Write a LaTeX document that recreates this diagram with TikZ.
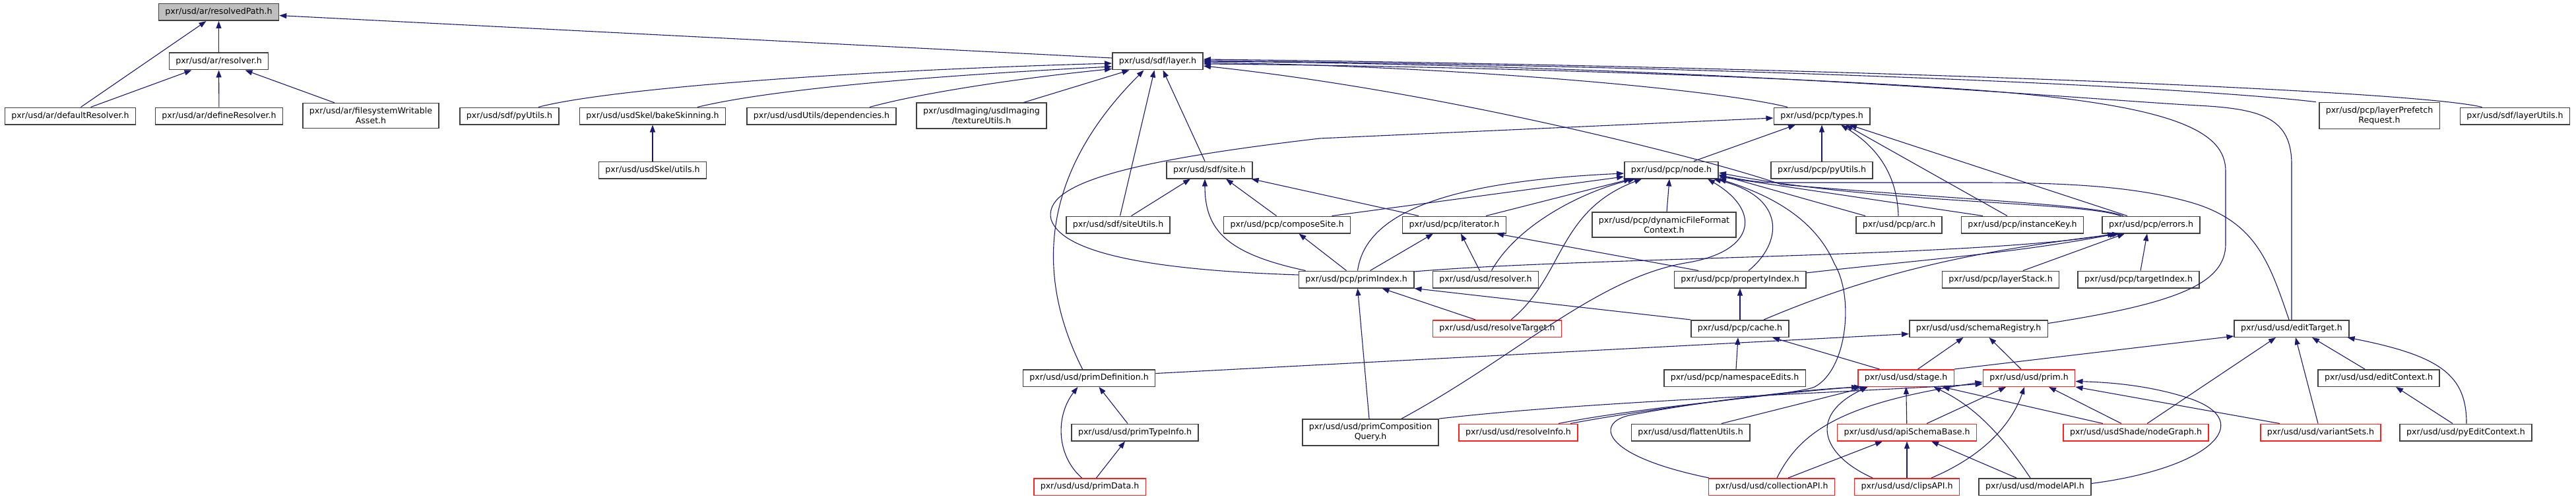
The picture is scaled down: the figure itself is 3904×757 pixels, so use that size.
\documentclass[tikz,border=0pt]{standalone}
\usepackage{fontspec}
\setmainfont{DejaVu Sans}
\usetikzlibrary{arrows.meta, positioning, calc}
\usepackage{xcolor}
\definecolor{midnight}{HTML}{191970}
\definecolor{frame}   {HTML}{404040}
\definecolor{redline} {HTML}{FF2020}
\definecolor{rootfill}{HTML}{BFBFBF}
\tikzset{
  file/.style  = {draw=frame, line width=1.5pt, fill=white, align=center,
                  inner xsep=10pt, inner ysep=6.5pt, minimum height=25.5pt,
                  font=\fontsize{12.6}{15}\selectfont},
  trunc/.style = {file, draw=redline},
  root/.style  = {file, fill=rootfill},
  dep/.style   = {-{Triangle[length=11pt,width=8pt]}, midnight, line width=1.1pt},
}

\begin{document}
\begin{tikzpicture}[x=1pt, y=-1pt]
  \useasboundingbox (0,0) rectangle (3904,757);

  % ar
  \node[root] (rpath)    at (331.5,18.5) {pxr/usd/ar/resolvedPath.h};
  \node[file] (resolver) at (331.5,93)   {pxr/usd/ar/resolver.h};
  \node[file] (defres)   at (106.5,176)  {pxr/usd/ar/defaultResolver.h};
  \node[file] (defineres) at (332,176)   {pxr/usd/ar/defineResolver.h};
  \node[file] (fswa)     at (562,175.5)  {pxr/usd/ar/filesystemWritable\\Asset.h};

  % sdf/layer.h and its direct users
  \node[file] (layer)    at (1754.5,93)  {pxr/usd/sdf/layer.h};
  \node[file] (sdfpy)    at (772,176)    {pxr/usd/sdf/pyUtils.h};
  \node[file] (bake)     at (989,176)    {pxr/usd/usdSkel/bakeSkinning.h};
  \node[file] (deps)     at (1245,176)   {pxr/usd/usdUtils/dependencies.h};
  \node[file] (texutil)  at (1487.5,175.5) {pxr/usdImaging/usdImaging\\/textureUtils.h};
  \node[file] (types)    at (2761,176)   {pxr/usd/pcp/types.h};
  \node[file] (prefetch) at (3606,175.5) {pxr/usd/pcp/layerPrefetch\\Request.h};
  \node[file] (layerutil) at (3811.5,176) {pxr/usd/sdf/layerUtils.h};
  \node[file] (skelutil) at (989,258)    {pxr/usd/usdSkel/utils.h};

  % sdf/site.h, pcp/node.h
  \node[file] (site)     at (1833,258)   {pxr/usd/sdf/site.h};
  \node[file] (pcpnode)  at (2533,258)   {pxr/usd/pcp/node.h};
  \node[file] (pcppy)    at (2761,258)   {pxr/usd/pcp/pyUtils.h};
  \node[file] (siteutil) at (1694.5,341) {pxr/usd/sdf/siteUtils.h};
  \node[file] (compsite) at (1950.5,341) {pxr/usd/pcp/composeSite.h};
  \node[file] (iter)     at (2204,341)   {pxr/usd/pcp/iterator.h};
  \node[file] (dffc)     at (2522,341)   {pxr/usd/pcp/dynamicFileFormat\\Context.h};
  \node[file] (arc)      at (2878,341)   {pxr/usd/pcp/arc.h};
  \node[file] (instkey)  at (3065,341)   {pxr/usd/pcp/instanceKey.h};
  \node[file] (errors)   at (3260,341)   {pxr/usd/pcp/errors.h};

  % pcp indices
  \node[file]  (primidx) at (2055.5,424) {pxr/usd/pcp/primIndex.h};
  \node[file]  (usdres)  at (2251.5,424) {pxr/usd/usd/resolver.h};
  \node[file]  (propidx) at (2637,424)   {pxr/usd/pcp/propertyIndex.h};
  \node[file]  (lstack)  at (3032,424)   {pxr/usd/pcp/layerStack.h};
  \node[file]  (tidx)    at (3241,424)   {pxr/usd/pcp/targetIndex.h};
  \node[trunc] (restgt)  at (2269,498.5) {pxr/usd/usd/resolveTarget.h};
  \node[file]  (cache)   at (2637,498.5) {pxr/usd/pcp/cache.h};
  \node[file]  (schreg)  at (2998.5,498.5) {pxr/usd/usd/schemaRegistry.h};
  \node[file]  (edittgt) at (3473,498.5) {pxr/usd/usd/editTarget.h};

  % usd
  \node[file]  (primdef) at (1650.5,573.5) {pxr/usd/usd/primDefinition.h};
  \node[file]  (nsedits) at (2629,573.5) {pxr/usd/pcp/namespaceEdits.h};
  \node[trunc] (stage)   at (2888.5,573.5) {pxr/usd/usd/stage.h};
  \node[trunc] (prim)    at (3075,573.5) {pxr/usd/usd/prim.h};
  \node[file]  (editctx) at (3605,573.5) {pxr/usd/usd/editContext.h};
  \node[file]  (primtype) at (1720,656)  {pxr/usd/usd/primTypeInfo.h};
  \node[file]  (pcq)     at (2077,656)   {pxr/usd/usd/primComposition\\Query.h};
  \node[trunc] (resinfo) at (2301,656)   {pxr/usd/usd/resolveInfo.h};
  \node[file]  (flatten) at (2562,656)   {pxr/usd/usd/flattenUtils.h};
  \node[trunc] (apibase) at (2890,656)   {pxr/usd/usd/apiSchemaBase.h};
  \node[trunc] (nodegraph) at (3237,656) {pxr/usd/usdShade/nodeGraph.h};
  \node[trunc] (varsets) at (3517,656)   {pxr/usd/usd/variantSets.h};
  \node[file]  (pyeditctx) at (3737,656) {pxr/usd/usd/pyEditContext.h};
  \node[trunc] (primdata) at (1651.5,738.5) {pxr/usd/usd/primData.h};
  \node[trunc] (collapi) at (2685,738.5) {pxr/usd/usd/collectionAPI.h};
  \node[trunc] (clipsapi) at (2890,738.5) {pxr/usd/usd/clipsAPI.h};
  \node[file]  (modelapi) at (3084,738.5) {pxr/usd/usd/modelAPI.h};

  % ar edges
  \draw[dep] ([xshift=16pt]defres.north) -- ([xshift=-19pt]rpath.south);
  \draw[dep] (resolver) -- (rpath);
  \draw[dep] ([yshift=5pt]layer.west) -- ([yshift=-5pt]rpath.east);
  \draw[dep] ([xshift=31pt]defres.north) -- ([xshift=-41pt]resolver.south);
  \draw[dep] (defineres) -- (resolver);
  \draw[dep] ([xshift=-55pt]fswa.north) -- ([xshift=40pt]resolver.south);

  % into sdf/layer.h
  \draw[dep] ([xshift=44pt]sdfpy.north) .. controls (900,140) and (1200,110) .. ([yshift=-3pt]layer.west);
  \draw[dep] ([xshift=68pt]bake.north) .. controls (1150,140) and (1350,118) .. ([yshift=-8pt]layer.west);
  \draw[dep] ([xshift=73pt]deps.north) .. controls (1400,140) and (1550,118) .. ([yshift=2pt]layer.south west);
  \draw[dep] ([xshift=64pt]texutil.north) -- ([xshift=-43pt]layer.south);
  \draw[dep] ([xshift=-10pt]primdef.north) .. controls (1580,440) and (1560,280) .. ([xshift=-21pt]layer.south);
  \draw[dep] ([xshift=3pt]siteutil.north) -- ([xshift=-5pt]layer.south);
  \draw[dep] ([xshift=-7pt]site.north) -- ([xshift=8pt]layer.south);
  \draw[dep] ([xshift=-52pt]types.north) .. controls (2600,135) and (2200,100) .. ([yshift=-2pt]layer.east);
  \draw[dep] ([xshift=-42pt]errors.north) .. controls (3170,310) and (3000,305) .. (2700,280)
             .. controls (2600,245) and (2200,140) .. ([yshift=-7pt]layer.east);
  \draw[dep] ([xshift=-96pt]prefetch.north) .. controls (3300,130) and (2600,100) .. ([yshift=1pt]layer.east);
  \draw[dep] ([xshift=-50pt]layerutil.north) .. controls (3650,135) and (2700,100) .. ([yshift=3pt]layer.east);
  \draw[dep] (edittgt.north) -- (3473,250) .. controls (3473,180) and (3430,165) .. (3330,160)
             .. controls (3150,150) and (2600,100) .. (layer.east);
  \draw[dep] ([yshift=8pt]schreg.east) .. controls (3300,460) and (3373,430) .. (3373,370) -- (3373,260)
             .. controls (3373,200) and (3300,160) .. (3000,137)
             .. controls (2700,115) and (2200,100) .. ([yshift=-4pt]layer.east);

  % usdSkel, sdf/site.h
  \draw[dep] (skelutil) -- (bake);
  \draw[dep] ([xshift=20pt]siteutil.north) -- ([xshift=-29pt]site.south);
  \draw[dep] ([xshift=-16pt]compsite.north) -- ([xshift=25pt]site.south);
  \draw[dep] ([xshift=-77pt]primidx.north) .. controls (1860,385) and (1826,350) .. ([xshift=-7pt]site.south);
  \draw[dep] ([xshift=-54pt]iter.north) -- ([xshift=-2pt]site.south east);
  \draw[dep] ([xshift=-15pt]primidx.north) -- ([xshift=18pt]compsite.south);

  % pcp/types.h
  \draw[dep] ([xshift=34pt]pcpnode.north) -- ([xshift=-40pt]types.south);
  \draw[dep] (pcppy) -- (types);
  \draw[dep] ([xshift=-1pt]arc.north) .. controls (2875,260) and (2840,220) .. ([xshift=29pt]types.south);
  \draw[dep] ([xshift=-23pt]instkey.north) -- ([xshift=36pt]types.south);
  \draw[dep] ([xshift=-36pt]errors.north) -- ([xshift=42pt]types.south);
  \draw[dep] ([yshift=7pt]primidx.west) .. controls (1750,410) and (1610,385) .. (1593,333)
             .. controls (1580,280) and (1700,245) .. (2000,210) -- ([yshift=-3pt]types.west);

  % pcp/node.h
  \draw[dep] ([xshift=68pt]compsite.north) -- ([yshift=-10pt]pcpnode.west);
  \draw[dep] ([xshift=48pt]iter.north) -- ([xshift=-61pt]pcpnode.south);
  \draw[dep] ([xshift=2pt]primidx.north) .. controls (2070,320) and (2200,275) .. ([yshift=-5pt]pcpnode.west);
  \draw[dep] ([xshift=9pt]usdres.north) .. controls (2300,340) and (2400,290) .. ([xshift=-55pt]pcpnode.south);
  \draw[dep] ([xshift=21pt]restgt.north) .. controls (2370,420) and (2360,320) .. ([xshift=-45pt]pcpnode.south);
  \draw[dep] ([xshift=4pt]dffc.north) -- ([xshift=-3pt]pcpnode.south);
  \draw[dep] ([xshift=47pt]pcq.north) .. controls (2300,540) and (2420,420) .. (2560,398)
             .. controls (2660,380) and (2670,320) .. ([xshift=55pt]pcpnode.south);
  \draw[dep] ([xshift=13pt]propidx.north) .. controls (2700,370) and (2710,300) .. ([xshift=64pt]pcpnode.south);
  \draw[dep] ([xshift=61pt]resinfo.north) .. controls (2500,615) and (2720,600) .. (2750,587)
             .. controls (2800,560) and (2810,450) .. (2780,400)
             .. controls (2750,330) and (2680,295) .. (pcpnode.south east);
  \draw[dep] ([xshift=-51pt]arc.north) -- ([yshift=-7pt]pcpnode.east);
  \draw[dep] ([xshift=-60pt]instkey.north) -- ([yshift=-10pt]pcpnode.east);
  \draw[dep] ([xshift=-46pt]errors.north) .. controls (3150,305) and (2850,310) .. ([yshift=-4pt]pcpnode.east);
  \draw[dep] ([xshift=-4pt]edittgt.north) .. controls (3440,400) and (3420,340) .. (3330,310)
             .. controls (3250,285) and (3150,277) .. (3000,277) -- (2690,277)
             .. controls (2660,277) and (2640,272) .. ([yshift=-8pt]pcpnode.east);

  % pcp/iterator.h
  \draw[dep] ([xshift=21pt]primidx.north) -- ([xshift=-32pt]iter.south);
  \draw[dep] ([xshift=-9pt]usdres.north) -- ([xshift=10pt]iter.south);
  \draw[dep] ([xshift=-63pt]propidx.north) -- ([xshift=64pt]iter.south);

  % pcp/errors.h
  \draw[dep] ([yshift=12pt]primidx.east) .. controls (2400,390) and (3000,390) .. ([xshift=-55pt]errors.south);
  \draw[dep] ([yshift=10pt]propidx.east) .. controls (2900,395) and (3050,385) .. ([xshift=-52pt]errors.south);
  \draw[dep] ([xshift=36pt]cache.north) .. controls (2850,410) and (3000,380) .. ([xshift=-48pt]errors.south);
  \draw[dep] ([xshift=34pt]lstack.north) -- ([xshift=-40pt]errors.south);
  \draw[dep] ([xshift=3pt]tidx.north) -- ([xshift=-6pt]errors.south);

  % primIndex, propertyIndex, cache
  \draw[dep] ([xshift=-33pt]restgt.north) -- ([xshift=39pt]primidx.south);
  \draw[dep] (cache.north west) -- (primidx.south east);
  \draw[dep] ([xshift=-2pt]pcq.north) -- ([xshift=2pt]primidx.south);
  \draw[dep] (cache) -- (propidx);
  \draw[dep] ([xshift=2pt]nsedits.north) -- ([xshift=-3pt]cache.south);
  \draw[dep] ([xshift=-40pt]stage.north) -- ([xshift=49pt]cache.south);

  % schemaRegistry, editTarget, editContext
  \draw[dep] ([yshift=7pt]primdef.east) -- ([yshift=-8pt]schreg.west);
  \draw[dep] ([xshift=18pt]stage.north) -- ([xshift=-23pt]schreg.south);
  \draw[dep] ([xshift=-12pt]prim.north) -- ([xshift=16pt]schreg.south);
  \draw[dep] (stage.north east) -- ([yshift=2pt]edittgt.south west);
  \draw[dep] ([xshift=17pt]nodegraph.north) -- ([xshift=-24pt]edittgt.south);
  \draw[dep] ([xshift=-4pt]varsets.north) -- ([xshift=6pt]edittgt.south);
  \draw[dep] ([xshift=-21pt]editctx.north) -- ([xshift=31pt]edittgt.south);
  \draw[dep] ([xshift=1pt]pyeditctx.north) .. controls (3738,570) and (3700,540) .. ([xshift=-3pt]edittgt.south east);
  \draw[dep] ([xshift=-20pt]pyeditctx.north) -- ([xshift=26pt]editctx.south);

  % primDefinition
  \draw[dep] ([xshift=-11pt]primtype.north) -- ([xshift=15pt]primdef.south);
  \draw[dep] ([xshift=-12pt]primdata.north) .. controls (1600,690) and (1600,630) .. ([xshift=-17pt]primdef.south);
  \draw[dep] ([xshift=10pt]primdata.north) -- ([xshift=-15pt]primtype.south);

  % usd/stage.h
  \draw[dep] ([xshift=79pt]resinfo.north) .. controls (2500,620) and (2700,595) .. ([xshift=2pt]stage.south west);
  \draw[dep] ([xshift=47pt]flatten.north) -- ([xshift=-59pt]stage.south);
  \draw[dep] (apibase) -- (stage);
  \draw[dep] ([xshift=-95pt]collapi.north) .. controls (2420,690) and (2420,640) .. (2470,630)
             .. controls (2600,605) and (2750,590) .. ([xshift=6pt]stage.south west);
  \draw[dep] ([xshift=-52pt]clipsapi.north) .. controls (2760,690) and (2740,630) .. ([xshift=-58pt]stage.south);
  \draw[dep] ([xshift=-7pt]modelapi.north) .. controls (3040,670) and (3000,620) .. ([xshift=42pt]stage.south);
  \draw[dep] ([xshift=-50pt]nodegraph.north) -- ([xshift=55pt]stage.south);

  % usd/prim.h
  \draw[dep] (pcq.north east) .. controls (2400,610) and (2700,600) .. ([yshift=-9pt]prim.west);
  \draw[dep] ([xshift=8pt]collapi.north) .. controls (2730,650) and (2800,610) .. ([yshift=-6pt]prim.west);
  \draw[dep] ([xshift=30pt]apibase.north) -- ([xshift=-35pt]prim.south);
  \draw[dep] ([xshift=37pt]clipsapi.north) .. controls (3010,690) and (3050,640) .. ([xshift=-7pt]prim.south);
  \draw[dep] ([xshift=-22pt]nodegraph.north) -- ([xshift=30pt]prim.south);
  \draw[dep] ([xshift=-62pt]varsets.north) -- (prim.south east);
  \draw[dep] ([yshift=5pt]modelapi.east) .. controls (3350,710) and (3420,640) .. (3320,605)
             .. controls (3260,585) and (3200,580) .. ([yshift=-5pt]prim.east);

  % usd/apiSchemaBase.h
  \draw[dep] ([xshift=25pt]collapi.north) -- ([xshift=-37pt]apibase.south);
  \draw[dep] (clipsapi) -- (apibase);
  \draw[dep] ([xshift=-28pt]modelapi.north) -- ([xshift=37pt]apibase.south);

\end{tikzpicture}
\end{document}
